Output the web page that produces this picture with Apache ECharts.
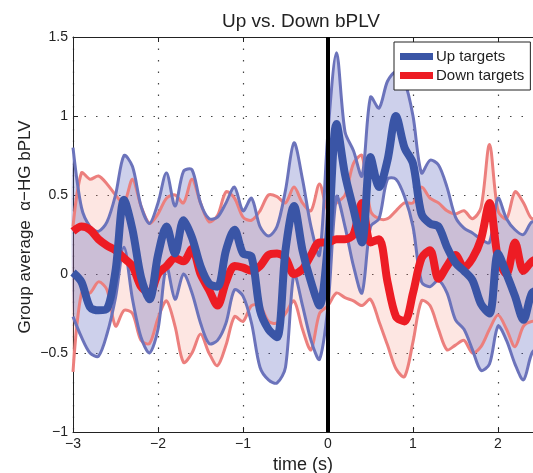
<!DOCTYPE html>
<html>
<head>
<meta charset="utf-8">
<script src="https://cdn.jsdelivr.net/npm/echarts@6/dist/echarts.min.js"></script>
<style>
  html, body { margin: 0; padding: 0; background: #fff; }
  #chart { width: 533px; height: 473px; }
</style>
</head>
<body>
<div id="chart"></div>
<script>
// time axis (s), 0.1 s steps
const times = [
  -3.0, -2.9, -2.8, -2.7, -2.6, -2.5, -2.4, -2.3, -2.2, -2.1,
  -2.0, -1.9, -1.8, -1.7, -1.6, -1.5, -1.4, -1.3, -1.2, -1.1,
  -1.0, -0.9, -0.8, -0.7, -0.6, -0.5, -0.4, -0.3, -0.2, -0.1,
  0.0, 0.1, 0.2, 0.3, 0.4, 0.5, 0.6, 0.7, 0.8, 0.9,
  1.0, 1.1, 1.2, 1.3, 1.4, 1.5, 1.6, 1.7, 1.8, 1.9,
  2.0, 2.1, 2.2, 2.3, 2.4, 2.5
];

// Up targets
const upMean = [
  0.01, -0.05, -0.21, -0.23, -0.22, 0.02, 0.47, 0.28, -0.02, -0.16,
  0.12, 0.30, 0.13, 0.34, 0.23, 0.05, -0.06, -0.08, 0.15, 0.28,
  0.13, 0.11, -0.23, -0.35, -0.40, 0.15, 0.43, 0.15, -0.05, -0.20,
  0.20, 0.95, 0.63, 0.41, 0.20, 0.74, 0.55, 0.72, 1.00, 0.80,
  0.70, 0.38, 0.32, 0.30, 0.17, 0.07, 0.02, -0.04, -0.19, -0.25,
  0.13, 0.00, -0.14, -0.29, -0.12, -0.10
];
const upUpper = [
  0.80, 0.42, 0.30, 0.27, 0.33, 0.50, 0.75, 0.68, 0.43, 0.32,
  0.45, 0.64, 0.43, 0.65, 0.66, 0.45, 0.35, 0.36, 0.45, 0.55,
  0.40, 0.48, 0.30, 0.24, 0.30, 0.53, 0.83, 0.60, 0.30, 0.12,
  0.90, 1.40, 0.90, 0.78, 0.62, 1.12, 1.05, 1.22, 1.28, 1.22,
  1.00, 0.64, 0.72, 0.69, 0.55, 0.36, 0.29, 0.26, 0.22, 0.20,
  0.48, 0.35, 0.28, 0.25, 0.33, 0.30
];
const upLower = [
  -0.27, -0.40, -0.50, -0.52, -0.38, -0.15, 0.17, -0.16, -0.40, -0.50,
  -0.35, 0.05, -0.16, 0.00, -0.12, -0.31, -0.44, -0.42, -0.31, -0.10,
  -0.14, -0.31, -0.59, -0.67, -0.69, -0.59, 0.00, -0.20, -0.42, -0.54,
  -0.20, 0.49, 0.30, 0.05, -0.12, 0.30, 0.35, 0.60, 0.60, 0.49,
  0.30, -0.05, -0.08, -0.04, -0.12, -0.29, -0.35, -0.48, -0.61, -0.57,
  -0.33, -0.42, -0.57, -0.67, -0.50, -0.45
];

// Down targets
const downMean = [
  0.27, 0.30, 0.28, 0.22, 0.18, 0.15, 0.10, 0.05, -0.08, -0.12,
  0.00, 0.05, 0.10, 0.08, 0.16, 0.00, -0.10, -0.20, -0.05, 0.05,
  0.04, 0.02, 0.05, 0.12, 0.13, 0.10, 0.00, 0.03, 0.12, 0.20,
  0.20, 0.22, 0.22, 0.25, 0.45, 0.20, 0.22, -0.05, -0.27, -0.30,
  -0.12, 0.10, 0.15, -0.03, 0.05, 0.12, 0.04, 0.10, 0.22, 0.45,
  0.10, 0.00, 0.20, 0.02, 0.08, 0.10
];
const downUpper = [
  0.30, 0.64, 0.60, 0.62, 0.57, 0.50, 0.45, 0.60, 0.43, 0.32,
  0.38, 0.48, 0.50, 0.45, 0.60, 0.45, 0.33, 0.37, 0.52, 0.48,
  0.36, 0.34, 0.40, 0.50, 0.49, 0.45, 0.55, 0.45, 0.40, 0.57,
  0.40, 0.45, 0.50, 0.70, 0.75, 0.40, 0.35, 0.35, 0.40, 0.45,
  0.45, 0.55, 0.48, 0.45, 0.40, 0.38, 0.40, 0.35, 0.42, 0.82,
  0.40, 0.35, 0.52, 0.45, 0.35, 0.40
];
const downLower = [
  -0.62, -0.12, -0.12, -0.05, -0.10, -0.33, -0.23, -0.25, -0.42, -0.44,
  -0.28, -0.17, -0.33, -0.56, -0.50, -0.38, -0.50, -0.58, -0.45, -0.27,
  -0.30, -0.20, -0.20, -0.30, -0.31, -0.25, -0.17, -0.35, -0.48, -0.25,
  -0.20, -0.12, -0.15, -0.17, -0.20, -0.16, -0.30, -0.45, -0.60, -0.65,
  -0.43, -0.17, -0.20, -0.35, -0.48, -0.45, -0.42, -0.50, -0.46, -0.35,
  -0.26, -0.35, -0.46, -0.33, -0.30, -0.30
];

const onsetTime = 0;

const FONT = "'Liberation Sans', Arial, sans-serif";
const SMOOTH = 0.3;
const minus = (v) => String(v).replace("-", "\u2212");
const pairs = (arr) => arr.map((v, i) => [times[i], v]);

// confidence band: filled polygon between lo and hi, drawn once
function bandFill(lo, hi, fill) {
  return {
    type: "custom",
    silent: true,
    z: 1,
    data: times.map((t, i) => [t, lo[i], hi[i]]),
    encode: { x: 0, y: [1, 2] },
    renderItem: function (params, api) {
      if (params.dataIndex !== 0) return null;
      const top = times.map((t, i) => api.coord([t, hi[i]]));
      const bot = times.map((t, i) => api.coord([t, lo[i]])).reverse();
      return {
        type: "polygon",
        shape: { points: top.concat(bot), smooth: SMOOTH },
        style: { fill: fill, stroke: null }
      };
    }
  };
}

// the two edges of a band
function bandEdges(lo, hi, color) {
  return {
    type: "custom",
    silent: true,
    z: 2,
    data: times.map((t, i) => [t, lo[i], hi[i]]),
    encode: { x: 0, y: [1, 2] },
    renderItem: function (params, api) {
      if (params.dataIndex !== 0) return null;
      const edge = (arr) => ({
        type: "polyline",
        shape: { points: times.map((t, i) => api.coord([t, arr[i]])), smooth: SMOOTH },
        style: { stroke: color, lineWidth: 3, fill: null, lineJoin: "round" }
      });
      return { type: "group", children: [edge(hi), edge(lo)] };
    }
  };
}

const myChart = echarts.init(document.getElementById("chart"));

const option = {
  animation: false,
  backgroundColor: "#fff",
  title: [
    {
      text: "Up vs. Down bPLV",
      left: 296,
      top: 7,
      textAlign: "center",
      textStyle: { fontFamily: FONT, fontSize: 19, fontWeight: "normal", color: "#222" }
    },
    {
      text: "time (s)",
      left: 298,
      top: 451,
      textAlign: "center",
      textStyle: { fontFamily: FONT, fontSize: 18, fontWeight: "normal", color: "#222" }
    }
  ],
  graphic: [
    {
      type: "text",
      x: 25,
      y: 227,
      rotation: Math.PI / 2,
      silent: true,
      style: {
        text: "Group average  \u03b1\u2212HG bPLV",
        font: "17px " + FONT,
        fill: "#222",
        align: "center",
        verticalAlign: "middle"
      }
    }
  ],
  legend: {
    data: [
      { name: "Up targets", icon: "rect" },
      { name: "Down targets", icon: "rect" }
    ],
    orient: "vertical",
    left: 394,
    top: 42,
    itemWidth: 33,
    itemHeight: 7,
    itemGap: 4,
    padding: [7, 6, 7, 6],
    backgroundColor: "#fff",
    borderColor: "#222",
    borderWidth: 1,
    borderRadius: 0,
    textStyle: { fontFamily: FONT, fontSize: 15, color: "#222", padding: [0, 0, 0, -2] }
  },
  grid: { left: 73, top: 37, bottom: 41, width: 510, outerBoundsMode: "none", containLabel: false },
  xAxis: [
    {
      type: "value",
      min: -3,
      max: 3,
      interval: 1,
      axisLine: { show: true, onZero: false, lineStyle: { color: "#222", width: 1 } },
      axisTick: { show: true, inside: true, length: 5, lineStyle: { color: "#222" } },
      axisLabel: { formatter: minus, fontFamily: FONT, fontSize: 14, color: "#222", margin: 5 },
      splitLine: { show: true, lineStyle: { color: "#444", type: [1.5, 10], width: 1.2 } }
    },
    {
      type: "value",
      position: "top",
      min: -3,
      max: 3,
      interval: 1,
      axisLine: { show: true, onZero: false, lineStyle: { color: "#222", width: 1 } },
      axisTick: { show: true, inside: true, length: 5, lineStyle: { color: "#222" } },
      axisLabel: { show: false },
      splitLine: { show: false }
    }
  ],
  yAxis: {
    type: "value",
    min: -1,
    max: 1.5,
    interval: 0.5,
    axisLine: { show: true, onZero: false, lineStyle: { color: "#222", width: 1 } },
    axisTick: { show: true, inside: true, length: 5, lineStyle: { color: "#222" } },
    axisLabel: { formatter: minus, fontFamily: FONT, fontSize: 14, color: "#222", margin: 5 },
    splitLine: { show: true, lineStyle: { color: "#444", type: [1.5, 10], width: 1.2 } }
  },
  series: [
    bandFill(downLower, downUpper, "rgba(245, 130, 110, 0.2)"),
    bandFill(upLower, upUpper, "rgba(70, 80, 180, 0.27)"),
    bandEdges(downLower, downUpper, "#ec7f7d"),
    bandEdges(upLower, upUpper, "#6b73bb"),
    {
      name: "Down targets",
      type: "line",
      data: pairs(downMean),
      symbol: "none",
      smooth: 0.3,
      color: "#ed1c24",
      lineStyle: { color: "#ed1c24", width: 8 },
      z: 3
    },
    {
      name: "Up targets",
      type: "line",
      data: pairs(upMean),
      symbol: "none",
      smooth: 0.3,
      color: "#3a55a6",
      lineStyle: { color: "#3a55a6", width: 8 },
      z: 4
    },
    {
      type: "line",
      data: [],
      z: 5,
      markLine: {
        silent: true,
        symbol: "none",
        label: { show: false },
        lineStyle: { color: "#000", width: 4, type: "solid" },
        data: [{ xAxis: onsetTime }]
      }
    }
  ]
};

myChart.setOption(option);
</script>
</body>
</html>
